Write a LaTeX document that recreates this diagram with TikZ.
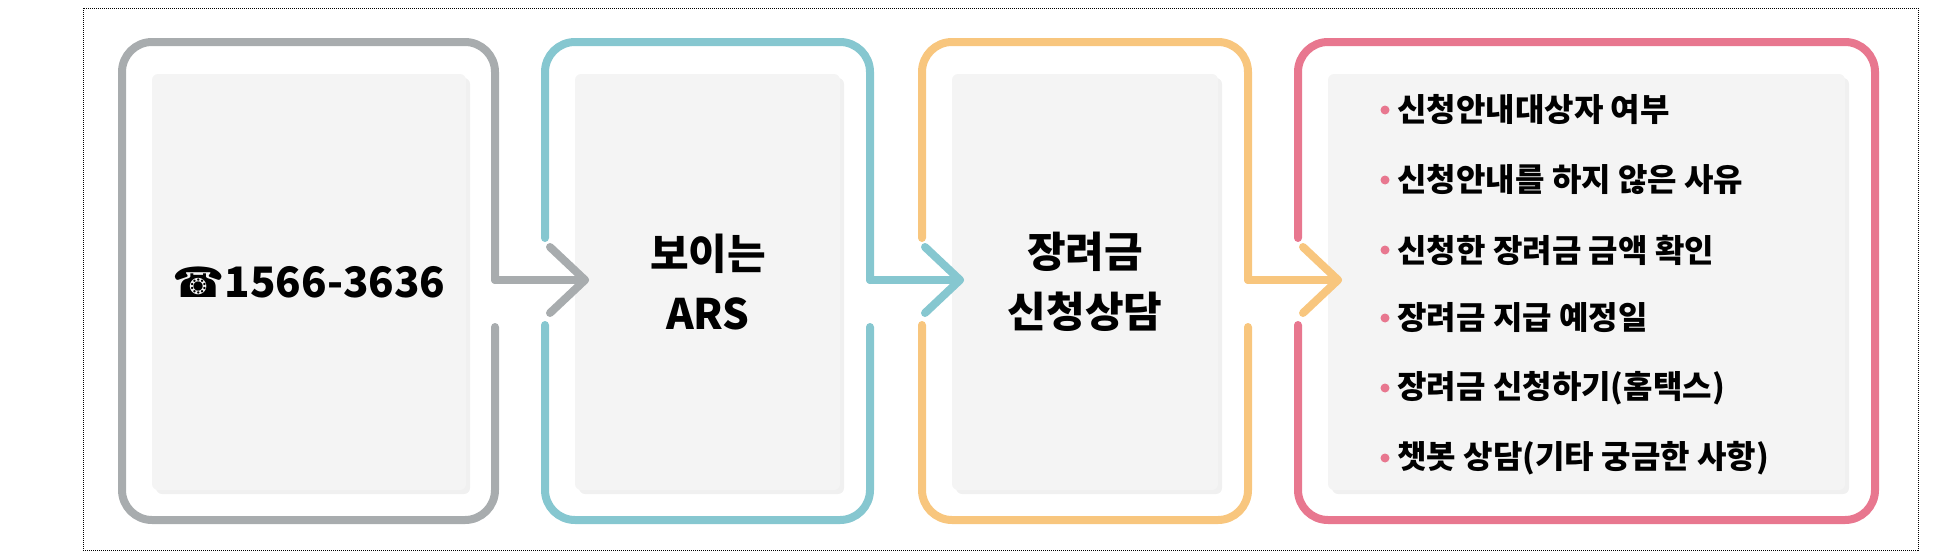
\documentclass[tikz,border=0pt]{standalone}
\usepackage{fontspec}
\setmainfont{Noto Sans CJK KR}
\newfontfamily\symf{DejaVu Sans}
\definecolor{cgray}{HTML}{A8ACAE}
\definecolor{cteal}{HTML}{86C7D0}
\definecolor{corange}{HTML}{F8C67E}
\definecolor{cpink}{HTML}{E8778F}
\definecolor{panel}{HTML}{F4F4F4}
\begin{document}
\begin{tikzpicture}[x=1pt,y=-1pt,
  frame/.style={line width=8pt,line cap=round,rounded corners=30pt},
  chev/.style={line width=8pt,line cap=round,line join=round},
  pan/.style={fill=panel,draw=none,rounded corners=6pt},
  big/.style={font=\fontsize{42}{60}\selectfont\bfseries,align=center},
  item/.style={font=\fontsize{32}{36}\selectfont\bfseries,anchor=west}]
\useasboundingbox (0,0) rectangle (1948,554);
\draw[densely dotted,line width=1pt] (83,8) rectangle (1918,550);
% panels with faint shadow
\foreach \l/\r in {152/466,575/840,952/1218,1328/1845}{
  \fill[black!6,rounded corners=6pt] (\l+4,78) rectangle (\r+4,494);
  \fill[pan] (\l,74) rectangle (\r,490);
}
% box 1
\draw[frame,cgray] (495,280) -- (495,42) -- (122,42) -- (122,520) -- (495,520) -- (495,327);
\draw[chev,cgray] (495,280) -- (585,280);
\draw[chev,cgray] (550,247) -- (585,280) -- (550,313);
% box 2
\draw[frame,cteal] (545,238) -- (545,42) -- (870,42) -- (870,280);
\draw[chev,cteal] (870,280) -- (960,280);
\draw[chev,cteal] (925,247) -- (960,280) -- (925,313);
\draw[frame,cteal] (545,325) -- (545,520) -- (870,520) -- (870,327);
% box 3
\draw[frame,corange] (922,238) -- (922,42) -- (1248,42) -- (1248,280);
\draw[chev,corange] (1248,280) -- (1338,280);
\draw[chev,corange] (1303,247) -- (1338,280) -- (1303,313);
\draw[frame,corange] (922,325) -- (922,520) -- (1248,520) -- (1248,327);
% box 4
\draw[frame,cpink] (1298,238) -- (1298,42) -- (1875,42) -- (1875,520) -- (1298,520) -- (1298,325);
% texts
\node[big] (t1) at (309,282) {{\symf ☎}1566-3636};
\node[big] (t2) at (708,282) {보이는\\ARS};
\node[big] (t3) at (1085,282) {장려금\\신청상담};
\foreach \y/\t [count=\i] in {110/신청안내대상자 여부,180/신청안내를 하지 않은 사유,250/신청한 장려금 금액 확인,318/장려금 지급 예정일,388/장려금 신청하기(홈택스),458/챗봇 상담(기타 궁금한 사항)}{
  \fill[cpink] (1385,\y) circle (4.5pt);
  \node[item] (i\i) at (1394,\y) {\t};
}
\end{tikzpicture}
\end{document}
